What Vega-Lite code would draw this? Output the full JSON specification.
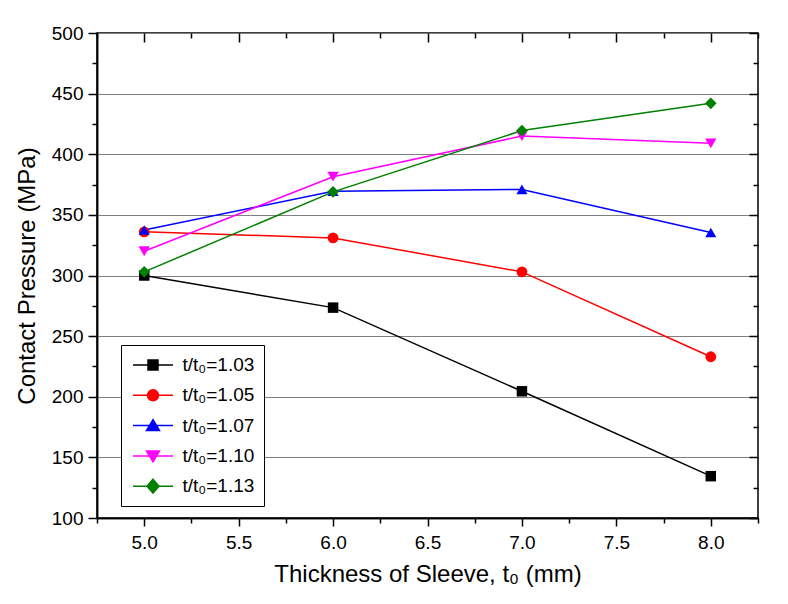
{
  "$schema": "https://vega.github.io/schema/vega-lite/v6.json",
  "width": 661,
  "height": 485,
  "autosize": {"type": "none"},
  "padding": {"left": 97, "top": 33, "right": 30, "bottom": 86},
  "background": "white",
  "config": {
    "font": "Liberation Sans",
    "view": {"stroke": "black", "strokeWidth": 1.5},
    "axis": {
      "domainColor": "black", "domainWidth": 1.5,
      "tickColor": "black", "tickWidth": 1.5,
      "labelColor": "black", "titleColor": "black",
      "labelFont": "Liberation Sans", "titleFont": "Liberation Sans",
      "labelFontSize": 19, "titleFontSize": 24, "titleFontWeight": "normal",
      "labelOverlap": false, "labelFlush": false, "grid": false
    }
  },
  "data": {
    "values": [
      {"t": 5.0, "p": 300, "ratio": "1.03"},
      {"t": 6.0, "p": 273.5, "ratio": "1.03"},
      {"t": 7.0, "p": 204.5, "ratio": "1.03"},
      {"t": 8.0, "p": 134.5, "ratio": "1.03"},
      {"t": 5.0, "p": 336, "ratio": "1.05"},
      {"t": 6.0, "p": 331, "ratio": "1.05"},
      {"t": 7.0, "p": 303, "ratio": "1.05"},
      {"t": 8.0, "p": 233, "ratio": "1.05"},
      {"t": 5.0, "p": 337.5, "ratio": "1.07"},
      {"t": 6.0, "p": 369.5, "ratio": "1.07"},
      {"t": 7.0, "p": 371, "ratio": "1.07"},
      {"t": 8.0, "p": 335.5, "ratio": "1.07"},
      {"t": 5.0, "p": 320, "ratio": "1.10"},
      {"t": 6.0, "p": 381.5, "ratio": "1.10"},
      {"t": 7.0, "p": 415, "ratio": "1.10"},
      {"t": 8.0, "p": 409, "ratio": "1.10"},
      {"t": 5.0, "p": 303, "ratio": "1.13"},
      {"t": 6.0, "p": 369, "ratio": "1.13"},
      {"t": 7.0, "p": 419.5, "ratio": "1.13"},
      {"t": 8.0, "p": 442, "ratio": "1.13"}
    ]
  },
  "layer": [
    {
      "mark": {"type": "line", "strokeWidth": 1.5},
      "encoding": {
        "x": {
          "field": "t", "type": "quantitative",
          "scale": {"domain": [4.75, 8.25], "nice": false, "zero": false},
          "axis": {
            "orient": "bottom",
            "values": [5, 5.5, 6, 6.5, 7, 7.5, 8],
            "format": ".1f",
            "tickSize": 8, "labelPadding": 7,
            "title": "Thickness of Sleeve, t\u2080  (mm)", "titlePadding": 10
          }
        },
        "y": {
          "field": "p", "type": "quantitative",
          "scale": {"domain": [100, 500], "nice": false, "zero": false},
          "axis": {
            "orient": "left",
            "values": [100, 150, 200, 250, 300, 350, 400, 450, 500],
            "grid": true, "gridColor": "#808080", "gridWidth": 1,
            "tickSize": 9, "labelPadding": 5,
            "title": "Contact Pressure  (MPa)", "titlePadding": 12, "titleFontSize": 24
          }
        },
        "color": {
          "field": "ratio", "type": "nominal",
          "scale": {"domain": ["1.03", "1.05", "1.07", "1.10", "1.13"], "range": ["#000000", "#ff0000", "#0000ff", "#ff00ff", "#008000"]},
          "legend": null
        }
      }
    },
    {
      "mark": {"type": "point", "filled": true, "opacity": 1},
      "encoding": {
        "x": {
          "field": "t", "type": "quantitative",
          "axis": {
            "orient": "top", "values": [5, 5.5, 6, 6.5, 7, 7.5, 8],
            "labels": false, "title": null, "tickSize": 9, "offset": -9, "domain": false
          }
        },
        "y": {
          "field": "p", "type": "quantitative",
          "axis": {
            "orient": "right", "values": [100, 150, 200, 250, 300, 350, 400, 450, 500],
            "labels": false, "title": null, "tickSize": 9, "offset": -9, "domain": false
          }
        },
        "color": {
          "field": "ratio", "type": "nominal",
          "scale": {"domain": ["1.03", "1.05", "1.07", "1.10", "1.13"], "range": ["#000000", "#ff0000", "#0000ff", "#ff00ff", "#008000"]},
          "legend": null
        },
        "shape": {
          "field": "ratio", "type": "nominal",
          "scale": {"domain": ["1.03", "1.05", "1.07", "1.10", "1.13"], "range": ["square", "circle", "triangle-up", "triangle-down", "diamond"]},
          "legend": null
        },
        "size": {
          "field": "ratio", "type": "nominal",
          "scale": {"domain": ["1.03", "1.05", "1.07", "1.10", "1.13"], "range": [110, 135, 170, 170, 180]},
          "legend": null
        }
      }
    },
    {
      "transform": [{"filter": "datum.p < 0"}],
      "mark": {"type": "point", "filled": false, "opacity": 1, "strokeWidth": 1.5},
      "encoding": {
        "x": {
          "field": "t", "type": "quantitative",
          "axis": {
            "orient": "bottom", "values": [4.75, 5.25, 5.75, 6.25, 6.75, 7.25, 7.75, 8.25],
            "labels": false, "title": null, "tickSize": 5
          }
        },
        "y": {
          "field": "p", "type": "quantitative",
          "axis": {
            "orient": "left", "values": [125, 175, 225, 275, 325, 375, 425, 475],
            "labels": false, "title": null, "tickSize": 5
          }
        },
        "stroke": {
          "field": "ratio", "type": "nominal",
          "scale": {"domain": ["1.03", "1.05", "1.07", "1.10", "1.13"], "range": ["#000000", "#ff0000", "#0000ff", "#ff00ff", "#008000"]},
          "legend": {
            "orient": "none", "legendX": 24, "legendY": 312, "zindex": 1,
            "title": null,
            "strokeColor": "black", "fillColor": "white", "padding": 9,
            "labelFont": "Liberation Sans", "labelFontSize": 19, "labelColor": "black",
            "labelExpr": "'t/t\u2080=' + datum.label",
            "symbolSize": 400, "symbolStrokeWidth": 1.5, "symbolOffset": 12, "symbolOpacity": 1,
            "labelOffset": 18.5, "rowPadding": 9.3
          }
        },
        "shape": {
          "field": "ratio", "type": "nominal",
          "scale": {
            "domain": ["1.03", "1.05", "1.07", "1.10", "1.13"],
            "range": [
              "M-2,0H2M-0.5,-0.5H0.5V0.5H-0.5Z",
              "M-2,0H2M0.55,0A0.55,0.55,0,1,1,-0.55,0A0.55,0.55,0,1,1,0.55,0Z",
              "M-2,0H2M0,-0.6L0.65,0.5H-0.65Z",
              "M-2,0H2M0,0.6L0.65,-0.5H-0.65Z",
              "M-2,0H2M0,-0.7L0.6,0L0,0.7L-0.6,0Z"
            ]
          }
        }
      }
    },
    {
      "transform": [{"filter": "datum.p < 0"}],
      "mark": {"type": "point", "filled": true, "opacity": 1},
      "encoding": {
        "x": {
          "field": "t", "type": "quantitative",
          "axis": {
            "orient": "top", "values": [4.75, 5.25, 5.75, 6.25, 6.75, 7.25, 7.75, 8.25],
            "labels": false, "title": null, "tickSize": 5, "offset": -5, "domain": false
          }
        },
        "y": {
          "field": "p", "type": "quantitative",
          "axis": {
            "orient": "right", "values": [125, 175, 225, 275, 325, 375, 425, 475],
            "labels": false, "title": null, "tickSize": 5, "offset": -5, "domain": false
          }
        },
        "color": {
          "field": "ratio", "type": "nominal",
          "scale": {"domain": ["1.03", "1.05", "1.07", "1.10", "1.13"], "range": ["#000000", "#ff0000", "#0000ff", "#ff00ff", "#008000"]},
          "legend": {
            "orient": "none", "legendX": 24, "legendY": 312, "zindex": 2,
            "title": null,
            "strokeColor": "transparent", "fillColor": "transparent", "padding": 9,
            "labelFont": "Liberation Sans", "labelFontSize": 19, "labelColor": "transparent",
            "labelExpr": "''",
            "symbolSize": 400, "symbolStrokeWidth": 1.5, "symbolStrokeColor": "transparent", "symbolOffset": 12, "symbolOpacity": 1,
            "labelOffset": 18.5, "rowPadding": 9.3
          }
        },
        "shape": {
          "field": "ratio", "type": "nominal",
          "scale": {
            "domain": ["1.03", "1.05", "1.07", "1.10", "1.13"],
            "range": [
              "M-0.5,-0.5H0.5V0.5H-0.5Z",
              "M0.55,0A0.55,0.55,0,1,1,-0.55,0A0.55,0.55,0,1,1,0.55,0Z",
              "M0,-0.6L0.65,0.5H-0.65Z",
              "M0,0.6L0.65,-0.5H-0.65Z",
              "M0,-0.7L0.6,0L0,0.7L-0.6,0Z"
            ]
          }
        }
      }
    }
  ],
  "resolve": {
    "axis": {"x": "independent", "y": "independent"},
    "scale": {"color": "independent", "shape": "independent", "stroke": "independent", "size": "independent"}
  }
}
